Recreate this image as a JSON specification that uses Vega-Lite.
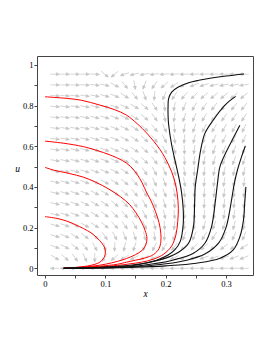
{
"$schema":"https://vega.github.io/schema/vega-lite/v6.json",
"autosize":"none",
"width":216,"height":219,
"padding":{"left":37,"top":56,"right":20,"bottom":78},
"background":"white",
"config":{"view":{"stroke":"#444","strokeWidth":1}},
"datasets":{
"field":[
{"x":0.0165,"u":0,"a":180},{"x":0.033,"u":0,"a":180},{"x":0.0495,"u":0,"a":180},{"x":0.066,"u":0,"a":180},{"x":0.0825,"u":0,"a":180},{"x":0.099,"u":0,"a":180},{"x":0.1155,"u":0,"a":180},{"x":0.132,"u":0,"a":180},{"x":0.1485,"u":0,"a":180},{"x":0.165,"u":0,"a":180},{"x":0.1815,"u":0,"a":180},{"x":0.198,"u":0,"a":180},{"x":0.2145,"u":0,"a":180},{"x":0.231,"u":0,"a":180},{"x":0.2475,"u":0,"a":180},{"x":0.264,"u":0,"a":180},{"x":0.2805,"u":0,"a":180},{"x":0.297,"u":0,"a":180},{"x":0.3135,"u":0,"a":180},{"x":0.33,"u":0,"a":180},
{"x":0.0165,"u":0.053,"a":32},{"x":0.033,"u":0.053,"a":42},{"x":0.0495,"u":0.053,"a":55},{"x":0.066,"u":0.053,"a":65},{"x":0.0825,"u":0.053,"a":90},{"x":0.099,"u":0.053,"a":120},{"x":0.1155,"u":0.053,"a":140},{"x":0.132,"u":0.053,"a":150},{"x":0.1485,"u":0.053,"a":154},{"x":0.165,"u":0.053,"a":156},{"x":0.1815,"u":0.053,"a":156},{"x":0.198,"u":0.053,"a":156},{"x":0.2145,"u":0.053,"a":157},{"x":0.231,"u":0.053,"a":158},{"x":0.2475,"u":0.053,"a":160},{"x":0.264,"u":0.053,"a":161},{"x":0.2805,"u":0.053,"a":162},{"x":0.297,"u":0.053,"a":163},{"x":0.3135,"u":0.053,"a":160},{"x":0.33,"u":0.053,"a":158},
{"x":0.0165,"u":0.106,"a":20},{"x":0.033,"u":0.106,"a":28},{"x":0.0495,"u":0.106,"a":38},{"x":0.066,"u":0.106,"a":50},{"x":0.0825,"u":0.106,"a":62},{"x":0.099,"u":0.106,"a":78},{"x":0.1155,"u":0.106,"a":92},{"x":0.132,"u":0.106,"a":102},{"x":0.1485,"u":0.106,"a":108},{"x":0.165,"u":0.106,"a":112},{"x":0.1815,"u":0.106,"a":115},{"x":0.198,"u":0.106,"a":122},{"x":0.2145,"u":0.106,"a":128},{"x":0.231,"u":0.106,"a":135},{"x":0.2475,"u":0.106,"a":138},{"x":0.264,"u":0.106,"a":140},{"x":0.2805,"u":0.106,"a":141},{"x":0.297,"u":0.106,"a":143},{"x":0.3135,"u":0.106,"a":146},{"x":0.33,"u":0.106,"a":148},
{"x":0.0165,"u":0.159,"a":16},{"x":0.033,"u":0.159,"a":22},{"x":0.0495,"u":0.159,"a":30},{"x":0.066,"u":0.159,"a":38},{"x":0.0825,"u":0.159,"a":46},{"x":0.099,"u":0.159,"a":55},{"x":0.1155,"u":0.159,"a":62},{"x":0.132,"u":0.159,"a":68},{"x":0.1485,"u":0.159,"a":72},{"x":0.165,"u":0.159,"a":76},{"x":0.1815,"u":0.159,"a":84},{"x":0.198,"u":0.159,"a":92},{"x":0.2145,"u":0.159,"a":106},{"x":0.231,"u":0.159,"a":110},{"x":0.2475,"u":0.159,"a":112},{"x":0.264,"u":0.159,"a":120},{"x":0.2805,"u":0.159,"a":122},{"x":0.297,"u":0.159,"a":120},{"x":0.3135,"u":0.159,"a":115},{"x":0.33,"u":0.159,"a":112},
{"x":0.0165,"u":0.212,"a":14},{"x":0.033,"u":0.212,"a":19},{"x":0.0495,"u":0.212,"a":24},{"x":0.066,"u":0.212,"a":29},{"x":0.0825,"u":0.212,"a":34},{"x":0.099,"u":0.212,"a":40},{"x":0.1155,"u":0.212,"a":47},{"x":0.132,"u":0.212,"a":54},{"x":0.1485,"u":0.212,"a":60},{"x":0.165,"u":0.212,"a":66},{"x":0.1815,"u":0.212,"a":75},{"x":0.198,"u":0.212,"a":86},{"x":0.2145,"u":0.212,"a":96},{"x":0.231,"u":0.212,"a":97},{"x":0.2475,"u":0.212,"a":100},{"x":0.264,"u":0.212,"a":106},{"x":0.2805,"u":0.212,"a":110},{"x":0.297,"u":0.212,"a":108},{"x":0.3135,"u":0.212,"a":104},{"x":0.33,"u":0.212,"a":102},
{"x":0.0165,"u":0.265,"a":11},{"x":0.033,"u":0.265,"a":17},{"x":0.0495,"u":0.265,"a":22},{"x":0.066,"u":0.265,"a":27},{"x":0.0825,"u":0.265,"a":32},{"x":0.099,"u":0.265,"a":38},{"x":0.1155,"u":0.265,"a":44},{"x":0.132,"u":0.265,"a":50},{"x":0.1485,"u":0.265,"a":56},{"x":0.165,"u":0.265,"a":63},{"x":0.1815,"u":0.265,"a":70},{"x":0.198,"u":0.265,"a":78},{"x":0.2145,"u":0.265,"a":86},{"x":0.231,"u":0.265,"a":90},{"x":0.2475,"u":0.265,"a":92},{"x":0.264,"u":0.265,"a":94},{"x":0.2805,"u":0.265,"a":96},{"x":0.297,"u":0.265,"a":97},{"x":0.3135,"u":0.265,"a":98},{"x":0.33,"u":0.265,"a":98},
{"x":0.0165,"u":0.318,"a":12},{"x":0.033,"u":0.318,"a":16},{"x":0.0495,"u":0.318,"a":21},{"x":0.066,"u":0.318,"a":26},{"x":0.0825,"u":0.318,"a":31},{"x":0.099,"u":0.318,"a":35},{"x":0.1155,"u":0.318,"a":40},{"x":0.132,"u":0.318,"a":48},{"x":0.1485,"u":0.318,"a":56},{"x":0.165,"u":0.318,"a":62},{"x":0.1815,"u":0.318,"a":66},{"x":0.198,"u":0.318,"a":74},{"x":0.2145,"u":0.318,"a":84},{"x":0.231,"u":0.318,"a":88},{"x":0.2475,"u":0.318,"a":92},{"x":0.264,"u":0.318,"a":94},{"x":0.2805,"u":0.318,"a":95},{"x":0.297,"u":0.318,"a":96},{"x":0.3135,"u":0.318,"a":96},{"x":0.33,"u":0.318,"a":96},
{"x":0.0165,"u":0.371,"a":12},{"x":0.033,"u":0.371,"a":15},{"x":0.0495,"u":0.371,"a":19},{"x":0.066,"u":0.371,"a":23},{"x":0.0825,"u":0.371,"a":27},{"x":0.099,"u":0.371,"a":31},{"x":0.1155,"u":0.371,"a":35},{"x":0.132,"u":0.371,"a":40},{"x":0.1485,"u":0.371,"a":49},{"x":0.165,"u":0.371,"a":58},{"x":0.1815,"u":0.371,"a":62},{"x":0.198,"u":0.371,"a":68},{"x":0.2145,"u":0.371,"a":78},{"x":0.231,"u":0.371,"a":84},{"x":0.2475,"u":0.371,"a":90},{"x":0.264,"u":0.371,"a":93},{"x":0.2805,"u":0.371,"a":95},{"x":0.297,"u":0.371,"a":97},{"x":0.3135,"u":0.371,"a":97},{"x":0.33,"u":0.371,"a":94},
{"x":0.0165,"u":0.424,"a":11},{"x":0.033,"u":0.424,"a":14},{"x":0.0495,"u":0.424,"a":17},{"x":0.066,"u":0.424,"a":20},{"x":0.0825,"u":0.424,"a":24},{"x":0.099,"u":0.424,"a":27},{"x":0.1155,"u":0.424,"a":32},{"x":0.132,"u":0.424,"a":40},{"x":0.1485,"u":0.424,"a":50},{"x":0.165,"u":0.424,"a":60},{"x":0.1815,"u":0.424,"a":65},{"x":0.198,"u":0.424,"a":70},{"x":0.2145,"u":0.424,"a":75},{"x":0.231,"u":0.424,"a":80},{"x":0.2475,"u":0.424,"a":90},{"x":0.264,"u":0.424,"a":95},{"x":0.2805,"u":0.424,"a":97},{"x":0.297,"u":0.424,"a":99},{"x":0.3135,"u":0.424,"a":100},{"x":0.33,"u":0.424,"a":96},
{"x":0.0165,"u":0.477,"a":10},{"x":0.033,"u":0.477,"a":12},{"x":0.0495,"u":0.477,"a":14},{"x":0.066,"u":0.477,"a":17},{"x":0.0825,"u":0.477,"a":20},{"x":0.099,"u":0.477,"a":23},{"x":0.1155,"u":0.477,"a":28},{"x":0.132,"u":0.477,"a":34},{"x":0.1485,"u":0.477,"a":44},{"x":0.165,"u":0.477,"a":56},{"x":0.1815,"u":0.477,"a":62},{"x":0.198,"u":0.477,"a":67},{"x":0.2145,"u":0.477,"a":74},{"x":0.231,"u":0.477,"a":82},{"x":0.2475,"u":0.477,"a":92},{"x":0.264,"u":0.477,"a":97},{"x":0.2805,"u":0.477,"a":101},{"x":0.297,"u":0.477,"a":103},{"x":0.3135,"u":0.477,"a":103},{"x":0.33,"u":0.477,"a":102},
{"x":0.0165,"u":0.53,"a":9},{"x":0.033,"u":0.53,"a":11},{"x":0.0495,"u":0.53,"a":13},{"x":0.066,"u":0.53,"a":16},{"x":0.0825,"u":0.53,"a":19},{"x":0.099,"u":0.53,"a":22},{"x":0.1155,"u":0.53,"a":26},{"x":0.132,"u":0.53,"a":30},{"x":0.1485,"u":0.53,"a":37},{"x":0.165,"u":0.53,"a":45},{"x":0.1815,"u":0.53,"a":53},{"x":0.198,"u":0.53,"a":61},{"x":0.2145,"u":0.53,"a":75},{"x":0.231,"u":0.53,"a":86},{"x":0.2475,"u":0.53,"a":95},{"x":0.264,"u":0.53,"a":100},{"x":0.2805,"u":0.53,"a":106},{"x":0.297,"u":0.53,"a":111},{"x":0.3135,"u":0.53,"a":110},{"x":0.33,"u":0.53,"a":108},
{"x":0.0165,"u":0.583,"a":8},{"x":0.033,"u":0.583,"a":10},{"x":0.0495,"u":0.583,"a":12},{"x":0.066,"u":0.583,"a":14},{"x":0.0825,"u":0.583,"a":17},{"x":0.099,"u":0.583,"a":20},{"x":0.1155,"u":0.583,"a":24},{"x":0.132,"u":0.583,"a":28},{"x":0.1485,"u":0.583,"a":34},{"x":0.165,"u":0.583,"a":42},{"x":0.1815,"u":0.583,"a":51},{"x":0.198,"u":0.583,"a":60},{"x":0.2145,"u":0.583,"a":75},{"x":0.231,"u":0.583,"a":88},{"x":0.2475,"u":0.583,"a":98},{"x":0.264,"u":0.583,"a":104},{"x":0.2805,"u":0.583,"a":108},{"x":0.297,"u":0.583,"a":112},{"x":0.3135,"u":0.583,"a":112},{"x":0.33,"u":0.583,"a":110},
{"x":0.0165,"u":0.636,"a":7},{"x":0.033,"u":0.636,"a":9},{"x":0.0495,"u":0.636,"a":11},{"x":0.066,"u":0.636,"a":13},{"x":0.0825,"u":0.636,"a":16},{"x":0.099,"u":0.636,"a":19},{"x":0.1155,"u":0.636,"a":23},{"x":0.132,"u":0.636,"a":28},{"x":0.1485,"u":0.636,"a":34},{"x":0.165,"u":0.636,"a":42},{"x":0.1815,"u":0.636,"a":50},{"x":0.198,"u":0.636,"a":63},{"x":0.2145,"u":0.636,"a":80},{"x":0.231,"u":0.636,"a":95},{"x":0.2475,"u":0.636,"a":103},{"x":0.264,"u":0.636,"a":110},{"x":0.2805,"u":0.636,"a":114},{"x":0.297,"u":0.636,"a":116},{"x":0.3135,"u":0.636,"a":117},{"x":0.33,"u":0.636,"a":115},
{"x":0.0165,"u":0.689,"a":6},{"x":0.033,"u":0.689,"a":8},{"x":0.0495,"u":0.689,"a":10},{"x":0.066,"u":0.689,"a":12},{"x":0.0825,"u":0.689,"a":15},{"x":0.099,"u":0.689,"a":18},{"x":0.1155,"u":0.689,"a":22},{"x":0.132,"u":0.689,"a":27},{"x":0.1485,"u":0.689,"a":33},{"x":0.165,"u":0.689,"a":40},{"x":0.1815,"u":0.689,"a":50},{"x":0.198,"u":0.689,"a":66},{"x":0.2145,"u":0.689,"a":86},{"x":0.231,"u":0.689,"a":100},{"x":0.2475,"u":0.689,"a":108},{"x":0.264,"u":0.689,"a":117},{"x":0.2805,"u":0.689,"a":120},{"x":0.297,"u":0.689,"a":120},{"x":0.3135,"u":0.689,"a":118},{"x":0.33,"u":0.689,"a":116},
{"x":0.0165,"u":0.742,"a":5},{"x":0.033,"u":0.742,"a":7},{"x":0.0495,"u":0.742,"a":9},{"x":0.066,"u":0.742,"a":11},{"x":0.0825,"u":0.742,"a":13},{"x":0.099,"u":0.742,"a":16},{"x":0.1155,"u":0.742,"a":20},{"x":0.132,"u":0.742,"a":25},{"x":0.1485,"u":0.742,"a":31},{"x":0.165,"u":0.742,"a":40},{"x":0.1815,"u":0.742,"a":54},{"x":0.198,"u":0.742,"a":76},{"x":0.2145,"u":0.742,"a":98},{"x":0.231,"u":0.742,"a":108},{"x":0.2475,"u":0.742,"a":114},{"x":0.264,"u":0.742,"a":120},{"x":0.2805,"u":0.742,"a":124},{"x":0.297,"u":0.742,"a":125},{"x":0.3135,"u":0.742,"a":124},{"x":0.33,"u":0.742,"a":122},
{"x":0.0165,"u":0.795,"a":4},{"x":0.033,"u":0.795,"a":6},{"x":0.0495,"u":0.795,"a":8},{"x":0.066,"u":0.795,"a":10},{"x":0.0825,"u":0.795,"a":12},{"x":0.099,"u":0.795,"a":15},{"x":0.1155,"u":0.795,"a":19},{"x":0.132,"u":0.795,"a":24},{"x":0.1485,"u":0.795,"a":30},{"x":0.165,"u":0.795,"a":40},{"x":0.1815,"u":0.795,"a":56},{"x":0.198,"u":0.795,"a":82},{"x":0.2145,"u":0.795,"a":100},{"x":0.231,"u":0.795,"a":112},{"x":0.2475,"u":0.795,"a":119},{"x":0.264,"u":0.795,"a":124},{"x":0.2805,"u":0.795,"a":127},{"x":0.297,"u":0.795,"a":128},{"x":0.3135,"u":0.795,"a":128},{"x":0.33,"u":0.795,"a":128},
{"x":0.0165,"u":0.848,"a":3},{"x":0.033,"u":0.848,"a":4},{"x":0.0495,"u":0.848,"a":6},{"x":0.066,"u":0.848,"a":8},{"x":0.0825,"u":0.848,"a":11},{"x":0.099,"u":0.848,"a":15},{"x":0.1155,"u":0.848,"a":22},{"x":0.132,"u":0.848,"a":33},{"x":0.1485,"u":0.848,"a":50},{"x":0.165,"u":0.848,"a":72},{"x":0.1815,"u":0.848,"a":95},{"x":0.198,"u":0.848,"a":112},{"x":0.2145,"u":0.848,"a":122},{"x":0.231,"u":0.848,"a":130},{"x":0.2475,"u":0.848,"a":136},{"x":0.264,"u":0.848,"a":139},{"x":0.2805,"u":0.848,"a":140},{"x":0.297,"u":0.848,"a":140},{"x":0.3135,"u":0.848,"a":140},{"x":0.33,"u":0.848,"a":140},
{"x":0.0165,"u":0.901,"a":1},{"x":0.033,"u":0.901,"a":1},{"x":0.0495,"u":0.901,"a":2},{"x":0.066,"u":0.901,"a":3},{"x":0.0825,"u":0.901,"a":6},{"x":0.099,"u":0.901,"a":12},{"x":0.1155,"u":0.901,"a":28},{"x":0.132,"u":0.901,"a":50},{"x":0.1485,"u":0.901,"a":80},{"x":0.165,"u":0.901,"a":111},{"x":0.1815,"u":0.901,"a":125},{"x":0.198,"u":0.901,"a":138},{"x":0.2145,"u":0.901,"a":147},{"x":0.231,"u":0.901,"a":155},{"x":0.2475,"u":0.901,"a":160},{"x":0.264,"u":0.901,"a":164},{"x":0.2805,"u":0.901,"a":167},{"x":0.297,"u":0.901,"a":169},{"x":0.3135,"u":0.901,"a":171},{"x":0.33,"u":0.901,"a":172},
{"x":0.0165,"u":0.954,"a":0},{"x":0.033,"u":0.954,"a":0},{"x":0.0495,"u":0.954,"a":0},{"x":0.066,"u":0.954,"a":0},{"x":0.0825,"u":0.954,"a":4},{"x":0.099,"u":0.954,"a":40},{"x":0.1155,"u":0.954,"a":140},{"x":0.132,"u":0.954,"a":162},{"x":0.1485,"u":0.954,"a":168},{"x":0.165,"u":0.954,"a":171},{"x":0.1815,"u":0.954,"a":173},{"x":0.198,"u":0.954,"a":175},{"x":0.2145,"u":0.954,"a":176},{"x":0.231,"u":0.954,"a":177},{"x":0.2475,"u":0.954,"a":178},{"x":0.264,"u":0.954,"a":178},{"x":0.2805,"u":0.954,"a":179},{"x":0.297,"u":0.954,"a":180},{"x":0.3135,"u":0.954,"a":180},{"x":0.33,"u":0.954,"a":180}
],
"red":[
{"c":"A","k":0,"x":0,"u":0.843},{"c":"A","k":1,"x":0.036,"u":0.835},{"c":"A","k":2,"x":0.06,"u":0.826},{"c":"A","k":3,"x":0.091,"u":0.802},{"c":"A","k":4,"x":0.115,"u":0.78},{"c":"A","k":5,"x":0.135,"u":0.753},{"c":"A","k":6,"x":0.153,"u":0.71},{"c":"A","k":7,"x":0.169,"u":0.663},{"c":"A","k":8,"x":0.191,"u":0.582},{"c":"A","k":9,"x":0.205,"u":0.508},{"c":"A","k":10,"x":0.214,"u":0.44},{"c":"A","k":11,"x":0.219,"u":0.37},{"c":"A","k":12,"x":0.221,"u":0.295},{"c":"A","k":13,"x":0.22,"u":0.23},{"c":"A","k":14,"x":0.217,"u":0.164},{"c":"A","k":15,"x":0.21,"u":0.11},{"c":"A","k":16,"x":0.197,"u":0.07},{"c":"A","k":17,"x":0.18,"u":0.045},{"c":"A","k":18,"x":0.16,"u":0.03},{"c":"A","k":19,"x":0.141,"u":0.022},{"c":"A","k":20,"x":0.12,"u":0.014},{"c":"A","k":21,"x":0.09,"u":0.007},{"c":"A","k":22,"x":0.06,"u":0.003},{"c":"A","k":23,"x":0.031,"u":0},
{"c":"B","k":0,"x":0,"u":0.625},{"c":"B","k":1,"x":0.03,"u":0.615},{"c":"B","k":2,"x":0.0635,"u":0.598},{"c":"B","k":3,"x":0.085,"u":0.58},{"c":"B","k":4,"x":0.108,"u":0.557},{"c":"B","k":5,"x":0.128,"u":0.53},{"c":"B","k":6,"x":0.142,"u":0.5},{"c":"B","k":7,"x":0.153,"u":0.46},{"c":"B","k":8,"x":0.161,"u":0.42},{"c":"B","k":9,"x":0.168,"u":0.375},{"c":"B","k":10,"x":0.176,"u":0.33},{"c":"B","k":11,"x":0.183,"u":0.28},{"c":"B","k":12,"x":0.189,"u":0.225},{"c":"B","k":13,"x":0.192,"u":0.17},{"c":"B","k":14,"x":0.192,"u":0.131},{"c":"B","k":15,"x":0.189,"u":0.097},{"c":"B","k":16,"x":0.18,"u":0.068},{"c":"B","k":17,"x":0.165,"u":0.05},{"c":"B","k":18,"x":0.15,"u":0.04},{"c":"B","k":19,"x":0.135,"u":0.03},{"c":"B","k":20,"x":0.12,"u":0.02},{"c":"B","k":21,"x":0.09,"u":0.01},{"c":"B","k":22,"x":0.06,"u":0.0045},{"c":"B","k":23,"x":0.031,"u":0},
{"c":"C","k":0,"x":0,"u":0.496},{"c":"C","k":1,"x":0.0138,"u":0.483},{"c":"C","k":2,"x":0.04,"u":0.466},{"c":"C","k":3,"x":0.0635,"u":0.448},{"c":"C","k":4,"x":0.085,"u":0.422},{"c":"C","k":5,"x":0.106,"u":0.389},{"c":"C","k":6,"x":0.125,"u":0.352},{"c":"C","k":7,"x":0.14,"u":0.314},{"c":"C","k":8,"x":0.151,"u":0.272},{"c":"C","k":9,"x":0.16,"u":0.227},{"c":"C","k":10,"x":0.166,"u":0.185},{"c":"C","k":11,"x":0.169,"u":0.147},{"c":"C","k":12,"x":0.167,"u":0.115},{"c":"C","k":13,"x":0.161,"u":0.088},{"c":"C","k":14,"x":0.15,"u":0.067},{"c":"C","k":15,"x":0.135,"u":0.048},{"c":"C","k":16,"x":0.12,"u":0.034},{"c":"C","k":17,"x":0.1,"u":0.02},{"c":"C","k":18,"x":0.08,"u":0.011},{"c":"C","k":19,"x":0.06,"u":0.006},{"c":"C","k":20,"x":0.031,"u":0},
{"c":"D","k":0,"x":0,"u":0.254},{"c":"D","k":1,"x":0.02,"u":0.245},{"c":"D","k":2,"x":0.036,"u":0.232},{"c":"D","k":3,"x":0.05,"u":0.215},{"c":"D","k":4,"x":0.064,"u":0.195},{"c":"D","k":5,"x":0.076,"u":0.175},{"c":"D","k":6,"x":0.086,"u":0.15},{"c":"D","k":7,"x":0.094,"u":0.125},{"c":"D","k":8,"x":0.099,"u":0.1},{"c":"D","k":9,"x":0.1,"u":0.08},{"c":"D","k":10,"x":0.099,"u":0.06},{"c":"D","k":11,"x":0.096,"u":0.045},{"c":"D","k":12,"x":0.091,"u":0.03},{"c":"D","k":13,"x":0.083,"u":0.02},{"c":"D","k":14,"x":0.07,"u":0.011},{"c":"D","k":15,"x":0.05,"u":0.004},{"c":"D","k":16,"x":0.031,"u":0}
],
"black":[
{"c":"K1","k":0,"x":0.33,"u":0.955},{"c":"K1","k":1,"x":0.3,"u":0.945},{"c":"K1","k":2,"x":0.276,"u":0.935},{"c":"K1","k":3,"x":0.255,"u":0.924},{"c":"K1","k":4,"x":0.238,"u":0.912},{"c":"K1","k":5,"x":0.221,"u":0.891},{"c":"K1","k":6,"x":0.21,"u":0.866},{"c":"K1","k":7,"x":0.205,"u":0.835},{"c":"K1","k":8,"x":0.204,"u":0.8},{"c":"K1","k":9,"x":0.204,"u":0.75},{"c":"K1","k":10,"x":0.205,"u":0.704},{"c":"K1","k":11,"x":0.21,"u":0.606},{"c":"K1","k":12,"x":0.216,"u":0.524},{"c":"K1","k":13,"x":0.221,"u":0.458},{"c":"K1","k":14,"x":0.226,"u":0.38},{"c":"K1","k":15,"x":0.229,"u":0.295},{"c":"K1","k":16,"x":0.229,"u":0.213},{"c":"K1","k":17,"x":0.224,"u":0.131},{"c":"K1","k":18,"x":0.215,"u":0.09},{"c":"K1","k":19,"x":0.204,"u":0.065},{"c":"K1","k":20,"x":0.185,"u":0.04},{"c":"K1","k":21,"x":0.16,"u":0.022},{"c":"K1","k":22,"x":0.141,"u":0.015},{"c":"K1","k":23,"x":0.12,"u":0.01},{"c":"K1","k":24,"x":0.09,"u":0.005},{"c":"K1","k":25,"x":0.06,"u":0.002},{"c":"K1","k":26,"x":0.031,"u":0},
{"c":"K2","k":0,"x":0.316,"u":0.845},{"c":"K2","k":1,"x":0.305,"u":0.82},{"c":"K2","k":2,"x":0.296,"u":0.794},{"c":"K2","k":3,"x":0.279,"u":0.729},{"c":"K2","k":4,"x":0.265,"u":0.663},{"c":"K2","k":5,"x":0.258,"u":0.581},{"c":"K2","k":6,"x":0.253,"u":0.483},{"c":"K2","k":7,"x":0.249,"u":0.4},{"c":"K2","k":8,"x":0.248,"u":0.319},{"c":"K2","k":9,"x":0.246,"u":0.204},{"c":"K2","k":10,"x":0.238,"u":0.123},{"c":"K2","k":11,"x":0.222,"u":0.08},{"c":"K2","k":12,"x":0.2,"u":0.05},{"c":"K2","k":13,"x":0.17,"u":0.028},{"c":"K2","k":14,"x":0.14,"u":0.011},{"c":"K2","k":15,"x":0.1,"u":0.005},{"c":"K2","k":16,"x":0.06,"u":0.0015},{"c":"K2","k":17,"x":0.031,"u":0},
{"c":"K3","k":0,"x":0.323,"u":0.703},{"c":"K3","k":1,"x":0.312,"u":0.64},{"c":"K3","k":2,"x":0.3,"u":0.57},{"c":"K3","k":3,"x":0.29,"u":0.5},{"c":"K3","k":4,"x":0.286,"u":0.42},{"c":"K3","k":5,"x":0.282,"u":0.32},{"c":"K3","k":6,"x":0.276,"u":0.204},{"c":"K3","k":7,"x":0.265,"u":0.123},{"c":"K3","k":8,"x":0.246,"u":0.074},{"c":"K3","k":9,"x":0.213,"u":0.041},{"c":"K3","k":10,"x":0.18,"u":0.022},{"c":"K3","k":11,"x":0.14,"u":0.008},{"c":"K3","k":12,"x":0.1,"u":0.0035},{"c":"K3","k":13,"x":0.06,"u":0.001},{"c":"K3","k":14,"x":0.031,"u":0},
{"c":"K4","k":0,"x":0.332,"u":0.601},{"c":"K4","k":1,"x":0.326,"u":0.55},{"c":"K4","k":2,"x":0.319,"u":0.483},{"c":"K4","k":3,"x":0.314,"u":0.42},{"c":"K4","k":4,"x":0.31,"u":0.35},{"c":"K4","k":5,"x":0.306,"u":0.28},{"c":"K4","k":6,"x":0.3,"u":0.2},{"c":"K4","k":7,"x":0.288,"u":0.125},{"c":"K4","k":8,"x":0.265,"u":0.07},{"c":"K4","k":9,"x":0.235,"u":0.04},{"c":"K4","k":10,"x":0.2,"u":0.022},{"c":"K4","k":11,"x":0.16,"u":0.01},{"c":"K4","k":12,"x":0.12,"u":0.004},{"c":"K4","k":13,"x":0.08,"u":0.0015},{"c":"K4","k":14,"x":0.031,"u":0},
{"c":"K5","k":0,"x":0.333,"u":0.4},{"c":"K5","k":1,"x":0.331,"u":0.32},{"c":"K5","k":2,"x":0.329,"u":0.237},{"c":"K5","k":3,"x":0.323,"u":0.155},{"c":"K5","k":4,"x":0.312,"u":0.09},{"c":"K5","k":5,"x":0.29,"u":0.049},{"c":"K5","k":6,"x":0.251,"u":0.025},{"c":"K5","k":7,"x":0.2,"u":0.012},{"c":"K5","k":8,"x":0.15,"u":0.005},{"c":"K5","k":9,"x":0.1,"u":0.002},{"c":"K5","k":10,"x":0.031,"u":0}
]
},
"encoding":{
"x":{"field":"x","type":"quantitative","scale":{"domain":[-0.01326,0.34477],"nice":false,"zero":false},
"axis":{"values":[0,0.05,0.1,0.15,0.2,0.25,0.3],"labelExpr":"round(datum.value*20)%2==0 ? format(datum.value,'~g') : ''","title":"x","grid":false,"domain":false,"ticks":true,"tickSize":3,"tickColor":"#444","labelPadding":1,"labelFlush":false,"labelOverlap":false,"labelFont":"Liberation Serif","labelFontSize":8.5,"labelColor":"#000","titleFont":"Liberation Serif","titleFontStyle":"italic","titleFontWeight":"normal","titleFontSize":9.5,"titleColor":"#000","titleY":18,"titleBaseline":"middle"}},
"y":{"field":"u","type":"quantitative","scale":{"domain":[-0.0329,1.0433],"nice":false,"zero":false},
"axis":{"values":[0,0.1,0.2,0.3,0.4,0.5,0.6,0.7,0.8,0.9,1],"labelExpr":"round(datum.value*10)%2==0 ? format(datum.value,'~g') : ''","title":"u","grid":false,"domain":false,"ticks":true,"tickSize":3,"tickColor":"#444","labelPadding":1,"labelFlush":false,"labelOverlap":false,"labelFont":"Liberation Serif","labelFontSize":8.5,"labelColor":"#000","titleFont":"Liberation Serif","titleFontStyle":"italic","titleFontWeight":"normal","titleFontSize":9.5,"titleColor":"#000","titleAngle":0,"titleX":-20,"titleY":112,"titleAlign":"center","titleBaseline":"middle"}}
},
"layer":[
{"data":{"name":"field"},
"mark":{"type":"point","shape":"M-1,0L0.3,0M0.3,-0.3L1,0L0.3,0.3Z","filled":true,"fill":"#c6c6c6","stroke":"#c6c6c6","strokeWidth":0.7,"size":85,"opacity":1},
"encoding":{"angle":{"field":"a","type":"quantitative","scale":null}}},
{"data":{"name":"red"},
"mark":{"type":"line","color":"#ff0000","strokeWidth":1,"interpolate":"catmull-rom"},
"encoding":{"detail":{"field":"c"},"order":{"field":"k","type":"quantitative"}}},
{"data":{"name":"black"},
"mark":{"type":"line","color":"#111111","strokeWidth":1.1,"interpolate":"catmull-rom"},
"encoding":{"detail":{"field":"c"},"order":{"field":"k","type":"quantitative"}}}
]
}
